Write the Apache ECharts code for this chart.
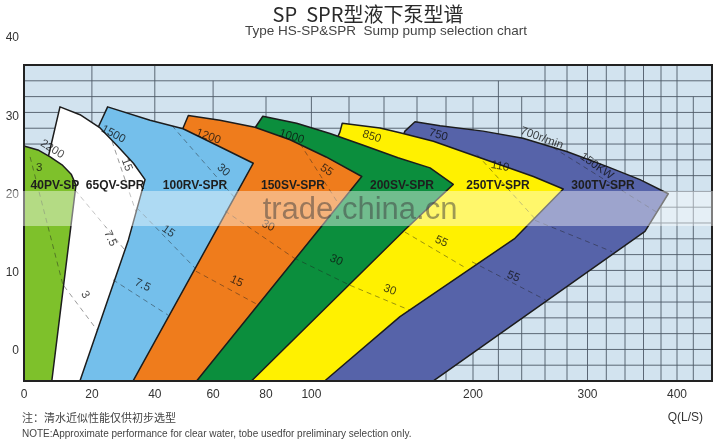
<!DOCTYPE html>
<html>
<head>
<meta charset="utf-8">
<script src="https://cdn.jsdelivr.net/npm/echarts@6.0.0/dist/echarts.min.js"></script>
<style>html,body{margin:0;padding:0;background:#fff;}#chart{width:720px;height:443px;}</style>
</head>
<body>
<div id="chart"></div>
<script>
// ---------- horizontal (flow) scale of the printed chart: it is not linear ----------
// flow values of the printed grid lines (L/s) and their position in scale units
const qStops = [0, 20, 40, 60, 80, 100, 120, 140, 160, 180, 200, 220, 240, 260, 280, 300, 320, 340, 360, 380, 400, 420, 440];
const uStops = [0, 67.9, 130.8, 189.1, 242, 287.4, 325, 360, 393, 422, 449, 474.4, 497.7, 521, 543, 563.5, 582.3, 601, 619.5, 637, 653, 669.3, 685.5];
const U_MAX = 688;

// ---------- ticks ----------
const xTickQ = [0, 20, 40, 60, 80, 100, 200, 300, 400];
const yTickH = [0, 10, 20, 30, 40];
const H_MIN = -3.83, H_MAX = 40, FRAME_TOP_H = 36.55;

// ---------- printed background grid ----------
const gridLineH = [-1.81, 0.20, 2.22, 4.24, 6.26, 8.28, 10.30, 12.32, 14.34, 16.36, 18.38, 20.39, 22.41, 24.43, 26.45, 28.47, 30.49, 32.51, 34.53];
const gridLineQ = [20, 40, 60, 80, 100, 120, 140, 160, 180, 200, 220, 240, 260, 280, 300, 320, 340, 360, 380, 400, 420];
const gridLineTopH = [36.55, 36.55, 34.53, 32.51, 32.51, 32.51, 32.51, 32.51, 32.51, 32.51, 34.53, 32.51, 36.55, 36.55, 36.55, 36.55, 36.55, 36.55, 36.55, 36.55, 32.51];

// ---------- pump models (outline of each selection area: Q in L/s, H in m) ----------
const pumpNames = ['40PV-SP', '65QV-SPR', '100RV-SPR', '150SV-SPR', '200SV-SPR', '250TV-SPR', '300TV-SPR'];
const p40Q  = [0, 4.1, 7.7, 11.2, 13.9, 15.3, 8.2, 0];
const p40H  = [26.2, 25.7, 24.8, 23.8, 22.6, 21.2, -3.8, -3.8];
const p65Q  = [10.6, 16.5, 22.6, 27.9, 33.2, 36.9, 31.6, 16.5, 4.1, 7.1];
const p65H  = [31.2, 30.2, 28.5, 26.3, 24.0, 21.9, 14.2, -3.8, -3.8, 24.7];
const p100Q = [25.0, 38.5, 49.7, 61.4, 75.2, 33.1, 13.6, 21.9];
const p100H = [31.2, 29.5, 28.4, 26.3, 24.0, -3.8, -3.8, 28.5];
const p150Q = [51.5, 62.6, 75.8, 90.6, 107.8, 127.3, 54.4, 27.4, 49.7];
const p150H = [30.1, 29.5, 28.6, 27.0, 24.8, 22.3, -3.8, -3.8, 28.5];
const p200Q = [78.8, 93.5, 109.9, 128.2, 148.5, 169.0, 185.4, 152.7, 74.6, 46.9, 75.8];
const p200H = [30.0, 29.1, 27.8, 26.3, 24.7, 23.4, 21.3, 15.5, -3.8, -3.8, 28.5];
const p250Q = [116.4, 137.7, 149.7, 171.3, 195.3, 221.4, 250.0, 276.6, 234.2, 149.7, 107.2, 66.4, 115.2];
const p250H = [29.1, 28.5, 27.9, 26.8, 25.3, 23.8, 22.3, 20.7, 14.4, 4.4, -3.8, -3.8, 28.0];
const p300Q = [158.8, 175.9, 207.9, 241.1, 279.7, 320.4, 356.2, 389.1, 361.7, 171.3, 95.0, 152.7];
const p300H = [29.3, 28.8, 28.1, 27.2, 25.5, 23.6, 21.9, 20.1, 15.3, -3.8, -3.8, 28.1];
// where each model name sits
const nameQ = [9.1, 27.4, 53.8, 91.9, 150.9, 219.7, 316.5];
const nameH = [21.1, 21.1, 21.1, 21.1, 21.1, 21.1, 21.1];

// ---------- power / speed lines: [Q1, H1, Q2, H2] ----------
const powerLines = [
  [1.8, 24.8, 11.5, 8.4], [11.8, 8.3, 21.6, 2.7], [15.0, 20.6, 30.5, 12.9], [26.4, 26.8, 34.0, 17.8],
  [45.9, 28.8, 67.9, 19.7], [34.3, 18.3, 53.8, 10.6], [26.7, 9.1, 44.5, 4.6],
  [95.0, 26.5, 114.7, 18.7], [64.5, 17.9, 92.3, 11.9], [54.1, 10.2, 77.0, 5.9],
  [92.3, 11.9, 120.6, 8.4], [120.6, 8.4, 155.8, 5.2], [152.7, 15.2, 194.8, 10.6],
  [203.2, 25.1, 251.4, 16.9], [267.3, 26.0, 374.3, 17.8], [251.4, 16.7, 326.1, 12.7], [199.3, 11.4, 260.9, 6.5]
];
// annotations: speed (r/min) and motor power (kW)
const noteText = ['2200', '3', '1500', '15', '7.5', '3', '1200', '30', '15', '7.5', '55', '30', '15', '1000', '30', '850', '110', '55', '30', '750', '700r/min', '150KW', '55'];
const noteQ = [8.3, 4.5, 26.8, 31.1, 25.8, 18.0, 58.4, 63.9, 44.6, 36.1, 108.1, 80.9, 68.9, 91.3, 113.2, 133.0, 221.4, 176.8, 143.6, 174.7, 257.2, 309.8, 232.9];
const noteH = [25.8, 23.4, 27.7, 23.8, 14.4, 7.2, 27.4, 23.1, 15.3, 8.4, 23.1, 16.0, 8.9, 27.4, 11.6, 27.4, 23.6, 14.0, 7.8, 27.6, 27.2, 23.6, 9.5];
const noteAngle = [-32, 0, -28, -68, -65, -58, -20, -42, -35, -25, -35, -25, -25, -18, -25, -18, -10, -25, -20, -15, -20, -35, -22];

// ---------- styles ----------
const pumpColors = ['#7ec12b', '#ffffff', '#74bfeb', '#ef7c1c', '#0b8e3d', '#fff100', '#5663a9'];
const pumpQ = [p40Q, p65Q, p100Q, p150Q, p200Q, p250Q, p300Q];
const pumpH = [p40H, p65H, p100H, p150H, p200H, p250H, p300H];

function toU(q) {
  const n = qStops.length - 1;
  for (let i = 0; i < n; i++) {
    if (q <= qStops[i + 1]) return uStops[i] + (q - qStops[i]) * (uStops[i + 1] - uStops[i]) / (qStops[i + 1] - qStops[i]);
  }
  return uStops[n] + (q - qStops[n]) * (uStops[n] - uStops[n - 1]) / (qStops[n] - qStops[n - 1]);
}
const xTickU = xTickQ.map(toU);

const series = [];
// background frame with printed grid
series.push({
  type: 'custom', coordinateSystem: 'cartesian2d', z: 1, silent: true, data: [[0, 0]],
  renderItem: (params, api) => {
    const tl = api.coord([0, FRAME_TOP_H]), br = api.coord([U_MAX, H_MIN]);
    const ch = [{ type: 'rect', shape: { x: tl[0], y: tl[1], width: br[0] - tl[0], height: br[1] - tl[1] }, style: { fill: '#d2e3ef' } }];
    gridLineH.forEach(h => {
      const a = api.coord([0, h]), b = api.coord([U_MAX, h]);
      ch.push({ type: 'line', shape: { x1: a[0], y1: a[1], x2: b[0], y2: b[1] }, style: { stroke: '#4d5966', lineWidth: 0.9 } });
    });
    gridLineQ.forEach((q, i) => {
      const a = api.coord([toU(q), gridLineTopH[i]]), b = api.coord([toU(q), H_MIN]);
      ch.push({ type: 'line', shape: { x1: a[0], y1: a[1], x2: b[0], y2: b[1] }, style: { stroke: '#4d5966', lineWidth: 0.9 } });
    });
    return { type: 'group', children: ch };
  }
});
// pump areas, largest first so that smaller models lie on top
for (let k = pumpNames.length - 1; k >= 0; k--) {
  const qs = pumpQ[k], hs = pumpH[k], col = pumpColors[k];
  series.push({
    type: 'custom', name: pumpNames[k], coordinateSystem: 'cartesian2d', z: 2 + (pumpNames.length - 1 - k), silent: true, data: [[0, 0]],
    renderItem: (params, api) => ({
      type: 'polygon',
      shape: { points: qs.map((q, i) => api.coord([toU(q), hs[i]])) },
      style: { fill: col, stroke: '#1c1c1c', lineWidth: 1.5, lineJoin: 'round' }
    })
  });
}
// dashed power lines
series.push({
  type: 'custom', coordinateSystem: 'cartesian2d', z: 10, silent: true, data: [[0, 0]],
  renderItem: (params, api) => ({
    type: 'group',
    children: powerLines.map(l => {
      const a = api.coord([toU(l[0]), l[1]]), b = api.coord([toU(l[2]), l[3]]);
      return { type: 'line', shape: { x1: a[0], y1: a[1], x2: b[0], y2: b[1] }, style: { stroke: 'rgba(30,30,30,0.5)', lineWidth: 0.9, lineDash: [5, 4] } };
    })
  })
});
// speed / power annotations
series.push({
  type: 'custom', coordinateSystem: 'cartesian2d', z: 11, silent: true, data: [[0, 0]],
  renderItem: (params, api) => ({
    type: 'group',
    children: noteText.map((t, i) => {
      const p = api.coord([toU(noteQ[i]), noteH[i]]);
      return { type: 'text', x: p[0], y: p[1], rotation: noteAngle[i] * Math.PI / 180,
        style: { text: t, fill: 'rgba(15,15,15,0.78)', font: '11.5px "Liberation Sans", Arial, sans-serif', align: 'center', verticalAlign: 'middle' } };
    })
  })
});
// model names
series.push({
  type: 'custom', coordinateSystem: 'cartesian2d', z: 12, silent: true, data: [[0, 0]],
  renderItem: (params, api) => ({
    type: 'group',
    children: pumpNames.map((t, i) => {
      const p = api.coord([toU(nameQ[i]), nameH[i]]);
      return { type: 'text', x: p[0], y: p[1],
        style: { text: t, fill: '#1e1e1e', font: 'bold 12px "Liberation Sans", Arial, sans-serif', align: 'center', verticalAlign: 'middle' } };
    })
  })
});
// frame border on top
series.push({
  type: 'custom', coordinateSystem: 'cartesian2d', z: 13, silent: true, data: [[0, 0]],
  renderItem: (params, api) => {
    const tl = api.coord([0, FRAME_TOP_H]), br = api.coord([U_MAX, H_MIN]);
    return { type: 'rect', shape: { x: tl[0], y: tl[1], width: br[0] - tl[0], height: br[1] - tl[1] }, style: { fill: 'none', stroke: '#222', lineWidth: 2 } };
  }
});

const chart = echarts.init(document.getElementById('chart'), null, { renderer: 'canvas' });
chart.setOption({
  backgroundColor: '#ffffff',
  animation: false,
  grid: { left: 24, right: 8, top: 38, bottom: 62, containLabel: false, outerBoundsMode: 'none' },
  xAxis: {
    type: 'value', min: 0, max: U_MAX,
    axisLine: { show: false }, axisTick: { show: false }, splitLine: { show: false },
    axisLabel: {
      customValues: xTickU, margin: 8, color: '#333', fontSize: 12, fontFamily: '"Liberation Sans", Arial, sans-serif',
      formatter: v => { const i = xTickU.findIndex(u => Math.abs(u - v) < 0.01); return i >= 0 ? String(xTickQ[i]) : ''; }
    }
  },
  yAxis: {
    type: 'value', min: H_MIN, max: H_MAX,
    axisLine: { show: false }, axisTick: { show: false }, splitLine: { show: false },
    axisLabel: { customValues: yTickH, margin: 5, color: '#333', fontSize: 12, fontFamily: '"Liberation Sans", Arial, sans-serif' }
  },
  graphic: [
    { type: 'text', x: 368, y: 14, z: 50, style: { text: 'SP  SPR型液下泵型谱', fill: '#2a2a2a', font: '20px "Noto Sans CJK SC", sans-serif', align: 'center', verticalAlign: 'middle' } },
    { type: 'text', x: 386, y: 31, z: 50, style: { text: 'Type HS-SP&SPR  Sump pump selection chart', fill: '#444', font: '13.5px "Liberation Sans", Arial, sans-serif', align: 'center', verticalAlign: 'middle' } },
    { type: 'text', x: 22, y: 418, z: 50, style: { text: '注：清水近似性能仅供初步选型', fill: '#444', font: '11px "Noto Sans CJK SC", sans-serif', align: 'left', verticalAlign: 'middle' } },
    { type: 'text', x: 22, y: 434, z: 50, style: { text: 'NOTE:Approximate performance for clear water, tobe usedfor preliminary selection only.', fill: '#444', font: '10px "Liberation Sans", Arial, sans-serif', align: 'left', verticalAlign: 'middle' } },
    { type: 'text', x: 703, y: 418, z: 50, style: { text: 'Q(L/S)', fill: '#333', font: '12px "Liberation Sans", Arial, sans-serif', align: 'right', verticalAlign: 'middle' } },
    { type: 'rect', z: 60, shape: { x: 0, y: 191, width: 720, height: 35 }, style: { fill: 'rgba(255,255,255,0.42)' } },
    { type: 'text', x: 360, y: 210, z: 61, style: { text: 'trade.china.cn', fill: 'rgba(60,60,60,0.5)', font: '31px "Liberation Sans", Arial, sans-serif', align: 'center', verticalAlign: 'middle' } }
  ],
  series: series
});
</script>
</body>
</html>
